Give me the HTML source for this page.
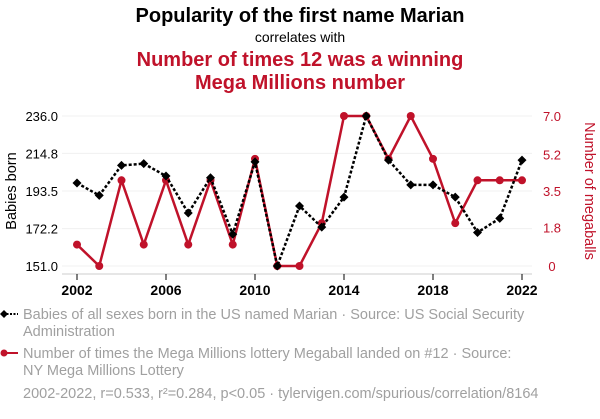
<!DOCTYPE html>
<html><head><meta charset="utf-8"><style>
body{margin:0;background:#fff;font-family:"Liberation Sans",sans-serif}
svg text{font-family:"Liberation Sans",sans-serif}
</style></head><body>
<svg width="600" height="414" xmlns="http://www.w3.org/2000/svg">
<text x="300" y="22" text-anchor="middle" font-size="20" font-weight="bold" fill="#000">Popularity of the first name Marian</text>
<text x="300" y="42" text-anchor="middle" font-size="14" fill="#000">correlates with</text>
<text x="300" y="66" text-anchor="middle" font-size="20" font-weight="bold" fill="#c0122a">Number of times 12 was a winning</text>
<text x="300" y="89" text-anchor="middle" font-size="20" font-weight="bold" fill="#c0122a">Mega Millions number</text>
<g id="grid"></g>
<line x1="62" y1="274" x2="532" y2="274" stroke="#ccc"/>
<g id="xt"></g><g id="yl"></g><g id="yr"></g>
<text transform="translate(16,191) rotate(-90)" text-anchor="middle" font-size="14.5" fill="#000">Babies born</text>
<text transform="translate(585,191) rotate(90)" text-anchor="middle" font-size="14.5" fill="#c0122a">Number of megaballs</text>
<g id="series"></g>
<g>
<line x1="3" y1="314" x2="18" y2="314" stroke="#000" stroke-width="2" stroke-dasharray="2,1.5"/>
<path d="M0 314 L4 310 L8 314 L4 318Z" fill="#000"/>
<text x="23" y="319" font-size="14.5" fill="#a0a0a0">Babies of all sexes born in the US named Marian · Source: US Social Security</text>
<text x="23" y="336" font-size="14.5" fill="#a0a0a0">Administration</text>
</g>
<g>
<line x1="3" y1="353" x2="18" y2="353" stroke="#c0122a" stroke-width="2"/>
<circle cx="4" cy="353" r="3.5" fill="#c0122a"/>
<text x="23" y="358" font-size="14.5" fill="#a0a0a0">Number of times the Mega Millions lottery Megaball landed on #12 · Source:</text>
<text x="23" y="375" font-size="14.5" fill="#a0a0a0">NY Mega Millions Lottery</text>
</g>
<text x="23" y="398" font-size="14.5" fill="#a0a0a0">2002-2022, r=0.533, r²=0.284, p&lt;0.05 · tylervigen.com/spurious/correlation/8164</text>
</svg>
<script>
const years=[2002,2003,2004,2005,2006,2007,2008,2009,2010,2011,2012,2013,2014,2015,2016,2017,2018,2019,2020,2021,2022];
const babies=[198,191,208,209,202,181,201,169,210,151,185,173,190,236,211,197,197,190,170,178,211];
const megaballs=[1,0,4,1,4,1,4,1,5,0,0,2,7,7,5,7,5,2,4,4,4];
const xTicks=[2002,2006,2010,2014,2018,2022];
const leftTicks=[151.0,172.2,193.5,214.8,236.0];
const rightTicks=[0,1.8,3.5,5.2,7.0];
const rightLabels=["0","1.8","3.5","5.2","7.0"];
const NS="http://www.w3.org/2000/svg";
const X=y=>77+(y-2002)*(445/20);
const YL=v=>266-(v-151)/(236-151)*150;
const YR=v=>266-v/7*150;
function mk(t,a,p){const e=document.createElementNS(NS,t);for(const k in a)e.setAttribute(k,a[k]);p.appendChild(e);return e;}
const grid=document.getElementById('grid'),xt=document.getElementById('xt'),yl=document.getElementById('yl'),yr=document.getElementById('yr'),S=document.getElementById('series');
leftTicks.forEach(v=>{const g=mk('line',{x1:62,x2:532,y1:YL(v),y2:YL(v),stroke:'#f0f0f0'},grid);


const t=mk('text',{x:58,y:YL(v)+5,'text-anchor':'end','font-size':13,fill:'#000'},yl);t.textContent=v.toFixed(1);

});
rightTicks.forEach((v,i)=>{const t=mk('text',{x:552,y:YR(v)+5,'text-anchor':'middle','font-size':13,fill:'#c0122a'},yr);t.textContent=rightLabels[i];

});
xTicks.forEach(y=>{mk('line',{x1:X(y),x2:X(y),y1:274,y2:280,stroke:'#000'},xt);
const t=mk('text',{x:X(y),y:295,'text-anchor':'middle','font-size':14,'font-weight':'bold',fill:'#000'},xt);t.textContent=y;

});
const rl=mk('polyline',{points:years.map((y,i)=>X(y)+','+YR(megaballs[i])).join(' '),fill:'none',stroke:'#c0122a','stroke-width':2.5},S);


years.forEach((y,i)=>{const c=mk('circle',{cx:X(y),cy:YR(megaballs[i]),r:4,fill:'#c0122a'},S);

});
const bl=mk('polyline',{points:years.map((y,i)=>X(y)+','+YL(babies[i])).join(' '),fill:'none',stroke:'#000','stroke-width':2.5,'stroke-dasharray':'3,2'},S);


years.forEach((y,i)=>{const x=X(y),yy=YL(babies[i]);const d=mk('path',{d:`M${x-4.5} ${yy} L${x} ${yy-4.5} L${x+4.5} ${yy} L${x} ${yy+4.5}Z`,fill:'#000'},S);

});
</script>
</body></html>
